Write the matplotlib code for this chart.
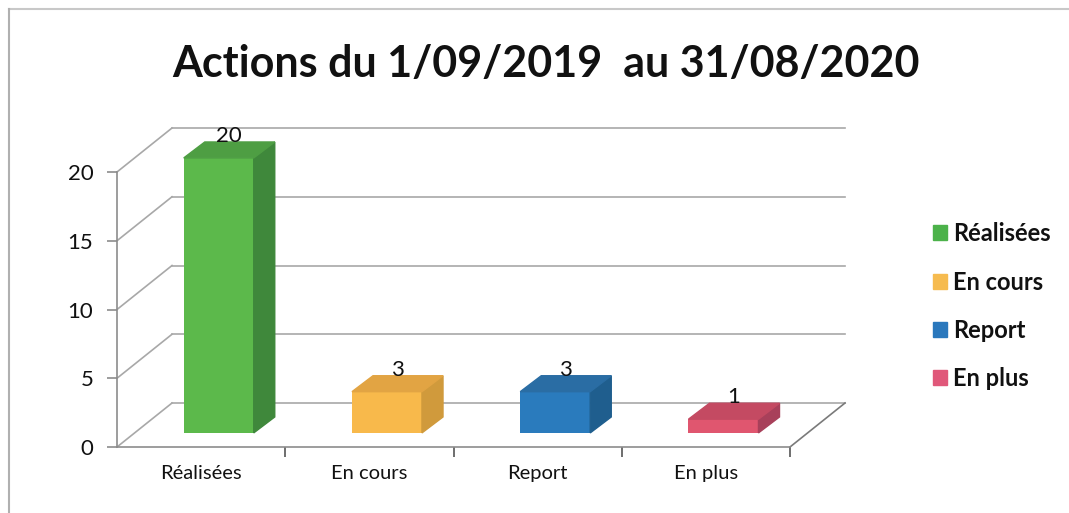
import matplotlib.pyplot as plt
from matplotlib.patches import Polygon, Patch
from matplotlib.lines import Line2D

categories = ['Réalisées', 'En cours', 'Report', 'En plus']
values = [20, 3, 3, 1]
front_colors = ['#5cb94b', '#f8b94b', '#2a7bbd', '#e0566f']
side_colors = ['#3f883b', '#d09a3c', '#1f5e8e', '#a8405a']
top_colors = ['#4e9e43', '#e2a443', '#2a6da4', '#c44a62']
legend_colors = ['#4cb24a', '#f6bb4f', '#2a78bd', '#e0587a']
yticks = [0, 5, 10, 15, 20]

plt.rcParams['font.family'] = ['Lato', 'DejaVu Sans']

fig = plt.figure(figsize=(10.69, 5.13), dpi=100)
ax = fig.add_axes([117 / 1069, 1 - 447 / 513, 673 / 1069, 275 / 513])
ax.set_xlim(-0.5, 3.5)
ax.set_ylim(0, 20)
ax.patch.set_alpha(0)

# pseudo 3D depth (in data units)
DX, DY = 0.327, 3.2          # back wall offset
F0 = 0.32                    # bar front position in the depth
BDX, BDY = 0.125, 1.16       # bar depth
BW = 0.416
grid_c = '#a8a8a8'

# back wall + floor
for v in yticks:
    ax.plot([-0.5 + DX, 3.5 + DX], [v + DY, v + DY], color=grid_c, lw=1.2,
            clip_on=False, zorder=1)
    ax.plot([-0.5, -0.5 + DX], [v, v + DY], color=grid_c, lw=1.2,
            clip_on=False, zorder=1)
ax.plot([3.5, 3.5 + DX], [0, DY], color='#7a7a7a', lw=1.2, clip_on=False, zorder=1)

# bars
xs = [i + F0 * DX for i in range(len(values))]
base = F0 * DY
bars = ax.bar(xs, values, width=BW, bottom=base, color=front_colors, zorder=3)
for b in bars:
    b.set_clip_on(False)
for x, v, sc, tc in zip(xs, values, side_colors, top_colors):
    r = x + BW / 2
    l = x - BW / 2
    top = base + v
    ax.add_patch(Polygon([(r, base), (r + BDX, base + BDY), (r + BDX, top + BDY), (r, top)],
                         closed=True, color=sc, zorder=3, clip_on=False))
    ax.add_patch(Polygon([(l, top), (r, top), (r + BDX, top + BDY), (l + BDX, top + BDY)],
                         closed=True, color=tc, zorder=3, clip_on=False))
    ax.text(x + BDX / 2, top + BDY - 0.3, str(v), ha='center', va='bottom',
            fontsize=16, color='#111111', zorder=4, clip_on=False)

# axes styling
for s in ['top', 'right']:
    ax.spines[s].set_visible(False)
for s in ['left', 'bottom']:
    ax.spines[s].set_color('#8c8c8c')
    ax.spines[s].set_linewidth(1.2)
ax.set_yticks(yticks)
ax.tick_params(axis='y', direction='out', length=7, width=1.2, color='#8c8c8c',
               pad=10, labelsize=16, labelcolor='#111111')
ax.set_xticks([0.5, 1.5, 2.5, 3.5])
ax.set_xticklabels([])
ax.tick_params(axis='x', which='major', direction='out', length=7, width=1.2,
               color='#555555')
ax.set_xticks(range(len(categories)), minor=True)
ax.set_xticklabels(categories, minor=True)
ax.tick_params(axis='x', which='minor', length=0, pad=13, labelsize=14.5,
               labelcolor='#111111')

fig.text(0.511, 1 - 64 / 513, 'Actions du 1/09/2019  au 31/08/2020', ha='center',
         va='center', fontsize=31, fontweight='bold', color='#111111')

handles = [Patch(color=c) for c in legend_colors]
fig.legend(handles, categories, loc='upper left', bbox_to_anchor=(912 / 1069, 1 - 201 / 513),
           frameon=False, handlelength=0.6, handleheight=0.6, handletextpad=0.25,
           labelspacing=1.07, prop={'size': 17, 'weight': 'bold'}, labelcolor='#111111')

# chart border (top and left edges)
fig.add_artist(Line2D([9 / 1069, 1], [1 - 9 / 513, 1 - 9 / 513], color='#c8c8c8', lw=1.5))
fig.add_artist(Line2D([9 / 1069, 9 / 1069], [0, 1 - 9 / 513], color='#b0b0b0', lw=1.5))

fig.savefig('out.png', dpi=100)
